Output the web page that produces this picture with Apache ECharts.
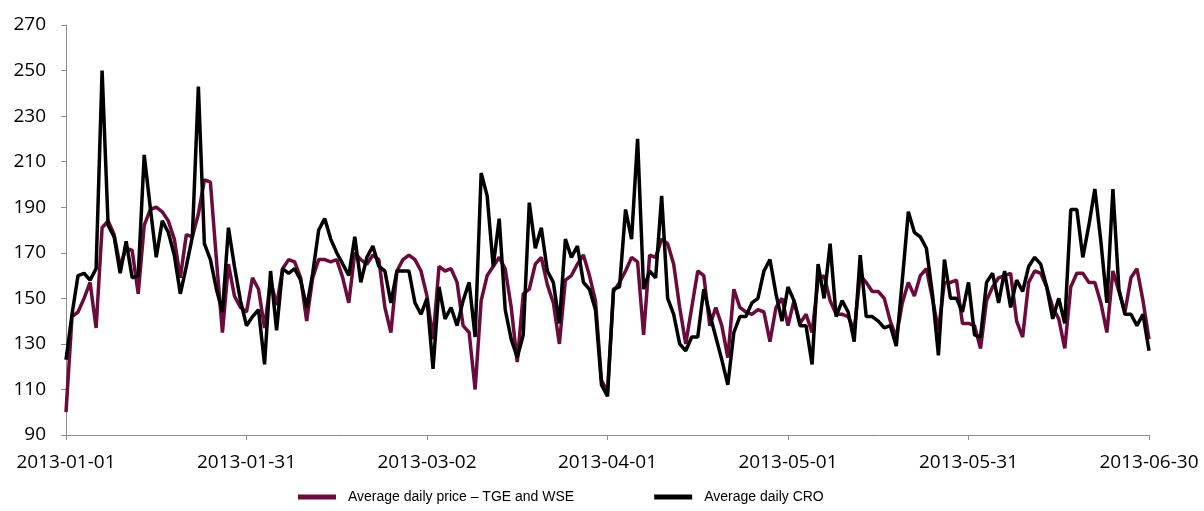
<!DOCTYPE html>
<html>
<head>
<meta charset="utf-8">
<title>Average daily price – TGE and WSE vs CRO</title>
<script src="https://cdn.jsdelivr.net/npm/echarts@6/dist/echarts.min.js"></script>
<style>
  html, body { margin: 0; padding: 0; background: #fff; }
  #chart { width: 1204px; height: 511px; }
</style>
</head>
<body>
<div id="chart"></div>
<script>
// daily values 2013-01-01 .. 2013-06-30
var priceTgeWse = [
  100, 142, 144, 150, 157, 137, 181, 184, 178, 164,
  172, 171, 152, 182, 189, 190, 188, 184, 176, 159,
  178, 177, 187, 202, 201, 167, 135, 165, 151, 146,
  144, 159, 154, 137, 158, 147, 163, 167, 166, 159,
  140, 159, 167, 167, 166, 167, 159, 148, 170, 167,
  165, 169, 167, 146, 135, 162, 167, 169, 167, 162,
  151, 132, 164, 162, 163, 157, 138, 135, 110, 149,
  160, 164, 168, 163, 146, 122, 152, 154, 165, 168,
  156, 148, 130, 158, 160, 165, 169, 160, 149, 114,
  109, 153, 157, 162, 168, 166, 134, 169, 168, 176,
  174, 165, 146, 130, 146, 162, 160, 138, 146, 138,
  124, 154, 146, 144, 143, 145, 144, 131, 146, 150,
  138, 149, 139, 143, 135, 158, 160, 149, 143, 143,
  142, 136, 160, 157, 153, 153, 150, 140, 133, 148,
  157, 151, 160, 163, 150, 136, 157, 157, 158, 139,
  139, 138, 128, 149, 155, 159, 160, 161, 140, 133,
  157, 162, 161, 155, 146, 141, 128, 155, 161, 161,
  157, 157, 148, 135, 162, 153, 144, 159, 163, 149,
  132
];
var priceCro = [
  123, 143, 160, 161, 158, 163, 250, 182, 177, 161,
  175, 159, 160, 213, 190, 168, 184, 179, 169, 152,
  164, 177, 243, 174, 167, 154, 144, 181, 164, 149,
  138, 142, 145, 121, 162, 136, 163, 161, 163, 158,
  146, 161, 180, 185, 176, 170, 165, 160, 177, 157,
  168, 173, 164, 162, 148, 162, 162, 162, 148, 143,
  150, 119, 155, 141, 146, 138, 149, 157, 133, 205,
  195, 164, 185, 145, 132, 124, 134, 192, 172, 181,
  162, 157, 139, 176, 168, 173, 157, 154, 145, 112,
  107, 154, 155, 189, 176, 220, 154, 162, 159, 195,
  150, 143, 130, 127, 133, 133, 154, 143, 133, 123,
  112, 135, 142, 142, 148, 150, 162, 167, 152, 140,
  155, 149, 138, 138, 121, 165, 150, 174, 142, 149,
  144, 131, 169, 142, 142, 140, 137, 138, 129, 158,
  188, 179, 177, 172, 152, 125, 167, 150, 150, 144,
  157, 134, 133, 157, 161, 148, 162, 146, 158, 153,
  164, 168, 165, 155, 141, 150, 139, 189, 189, 168,
  182, 198, 175, 148, 198, 154, 143, 143, 138, 143,
  127
];
var seriesNames = ['Average daily price – TGE and WSE', 'Average daily CRO'];
var seriesColors = ['#6a0a3d', '#000000'];

// one category per day
function pad(n) { return n < 10 ? '0' + n : '' + n; }
var days = [];
var start = Date.UTC(2013, 0, 1);
for (var i = 0; i < priceCro.length; i++) {
  var d = new Date(start + i * 86400000);
  days.push(d.getUTCFullYear() + '-' + pad(d.getUTCMonth() + 1) + '-' + pad(d.getUTCDate()));
}

var myChart = echarts.init(document.getElementById('chart'));

var option = {
  animation: false,
  backgroundColor: '#fff',
  grid: { left: 66, right: 55, top: 25, bottom: 76 },
  legend: {
    left: 293,
    bottom: 2,
    itemGap: 80,
    itemWidth: 38,
    itemHeight: 5,
    icon: 'rect',
    textStyle: { fontFamily: 'Liberation Sans', fontSize: 14, color: '#000', padding: [0, 0, 0, 7] },
    data: seriesNames
  },
  xAxis: {
    type: 'category',
    boundaryGap: false,
    data: days,
    axisLine: { lineStyle: { color: '#8c8c8c', width: 1 } },
    axisTick: { interval: 29, length: 5, lineStyle: { color: '#8c8c8c' } },
    axisLabel: {
      interval: 29,
      margin: 18,
      fontFamily: 'Open Sans',
      fontSize: 19,
      color: '#000'
    },
    splitLine: { show: false }
  },
  yAxis: {
    type: 'value',
    min: 90,
    max: 270,
    interval: 20,
    axisLine: { show: true, lineStyle: { color: '#8c8c8c', width: 1 } },
    axisTick: { show: true, length: 5, lineStyle: { color: '#8c8c8c' } },
    axisLabel: { margin: 20, fontFamily: 'Open Sans', fontSize: 19, color: '#000' },
    splitLine: { show: false }
  },
  series: [
    {
      name: seriesNames[0],
      type: 'line',
      data: priceTgeWse,
      symbol: 'none',
      lineStyle: { color: seriesColors[0], width: 3.5 },
      itemStyle: { color: seriesColors[0] }
    },
    {
      name: seriesNames[1],
      type: 'line',
      data: priceCro,
      symbol: 'none',
      lineStyle: { color: seriesColors[1], width: 3.5 },
      itemStyle: { color: seriesColors[1] }
    }
  ]
};

myChart.setOption(option);
</script>
</body>
</html>
